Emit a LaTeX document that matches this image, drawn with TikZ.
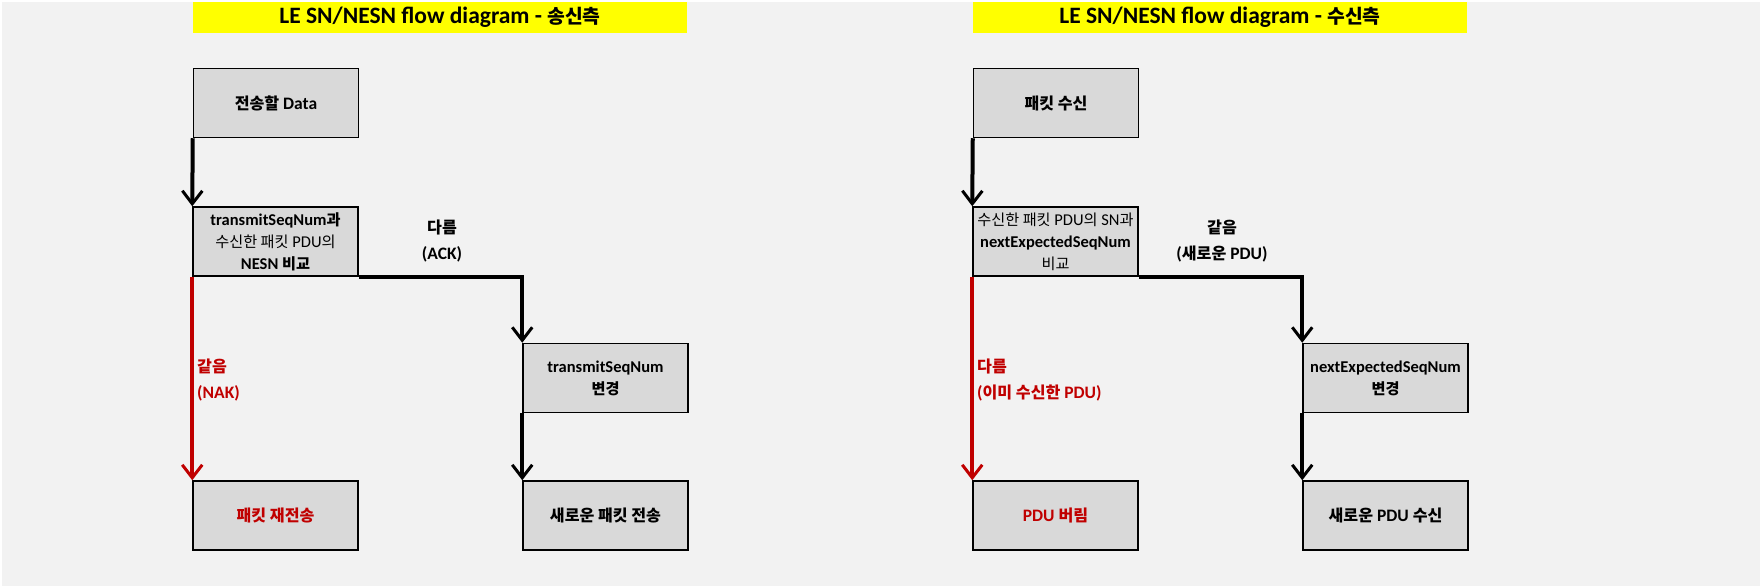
\documentclass[tikz,border=0pt]{standalone}
\usepackage{fontspec}
\setmainfont{Carlito}
\newfontfamily\kr{Noto Sans CJK KR}[Scale=0.92]
\newcommand{\K}[1]{{\kr #1}}
\usetikzlibrary{arrows.meta}
\definecolor{bggray}{HTML}{F2F2F2}
\definecolor{boxgray}{HTML}{D9D9D9}
\definecolor{darkred}{HTML}{C00000}
\definecolor{titleyellow}{HTML}{FFFF00}
\tikzset{
  box/.style={draw=black, line width=1.5pt, fill=boxgray, minimum width=165pt, minimum height=69pt, inner sep=0pt, align=center, font=\fontsize{16.5}{22}\selectfont\bfseries},
  bigbox/.style={box, font=\fontsize{17.5}{22}\selectfont\bfseries},
  conn/.style={line width=4pt, draw=black, -{Straight Barb[length=13pt,width=20pt,line width=3pt]}},
  redconn/.style={conn, draw=darkred},
  lbl/.style={align=center, inner sep=0pt, font=\fontsize{17.5}{26}\selectfont\bfseries},
  redlbl/.style={lbl, align=left, anchor=west, text=darkred},
  titlebar/.style={fill=titleyellow, draw=none, minimum width=494pt, minimum height=31pt, inner sep=0pt, font=\fontsize{23.5}{26}\selectfont\bfseries}
}
\newcommand{\TK}[1]{{\kr\fontsize{21}{26}\selectfont #1}}
\begin{document}
\begin{tikzpicture}[x=1pt,y=-1pt]
\useasboundingbox (0,0) rectangle (1760,586);
\fill[white] (0,0) rectangle (1760,586);
\fill[bggray] (2,2) rectangle (1760,586);
% ---------- left: sender ----------
\node[titlebar] (TL) at (440,17.5) {LE SN/NESN flow diagram - \TK{송신측}};
\node[bigbox] (L1) at (276,103) {\K{전송할} Data};
\node[box] (L2) at (275.5,241.5) {transmitSeqNum\K{과}\\{\mdseries\K{수신한 패킷} PDU\K{의}}\\NESN \K{비교}};
\node[box] (L3) at (605.5,378) {transmitSeqNum\\\K{변경}};
\node[bigbox, text=darkred] (L4) at (275.5,515.5) {\K{패킷 재전송}};
\node[bigbox] (L5) at (605.5,515.5) {\K{새로운 패킷 전송}};
\draw[conn] (L1.south west) -- (L2.north west);
\draw[conn] (L2.south east) -| (L3.north west);
\draw[redconn] (L2.south west) -- (L4.north west);
\draw[conn] (L3.south west) -- (L5.north west);
\node[lbl] (LA) at (442,241) {\K{다름}\\(ACK)};
\node[redlbl] (LB) at (197,380) {\K{같음}\\(NAK)};
% ---------- right: receiver ----------
\node[titlebar] (TR) at (1220,17.5) {LE SN/NESN flow diagram - \TK{수신측}};
\node[bigbox] (R1) at (1056,103) {\K{패킷 수신}};
\node[box] (R2) at (1055.5,241.5) {{\mdseries\K{수신한 패킷} PDU\K{의} SN\K{과}}\\nextExpectedSeqNum\\{\mdseries\K{비교}}};
\node[box] (R3) at (1385.5,378) {nextExpectedSeqNum\\\K{변경}};
\node[bigbox, text=darkred] (R4) at (1055.5,515.5) {PDU \K{버림}};
\node[bigbox] (R5) at (1385.5,515.5) {\K{새로운} PDU \K{수신}};
\draw[conn] (R1.south west) -- (R2.north west);
\draw[conn] (R2.south east) -| (R3.north west);
\draw[redconn] (R2.south west) -- (R4.north west);
\draw[conn] (R3.south west) -- (R5.north west);
\node[lbl] (RA) at (1222,241) {\K{같음}\\(\K{새로운} PDU)};
\node[redlbl] (RB) at (977,380) {\K{다름}\\(\K{이미 수신한} PDU)};
\end{tikzpicture}
\end{document}
